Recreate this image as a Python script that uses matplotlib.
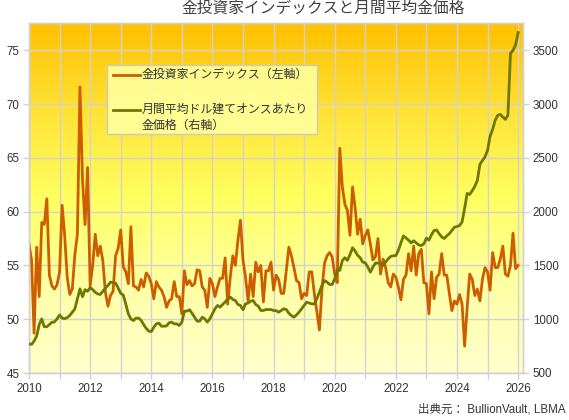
import numpy as np
import matplotlib
matplotlib.use("Agg")
import matplotlib.pyplot as plt
from matplotlib.colors import LinearSegmentedColormap
from matplotlib.lines import Line2D
from matplotlib.patches import Rectangle

plt.rcParams['font.family'] = ['Liberation Sans', 'Noto Sans CJK JP', 'DejaVu Sans']

# monthly values, Jan 2010 onwards
investor_index = [
    57.0, 55.5, 48.7, 56.7, 52.1, 59.0, 58.8, 61.2, 54.1, 53.1, 52.8, 53.2,
    54.4, 60.6, 57.8, 53.9, 52.3, 52.8, 56.0, 57.9, 71.6, 63.0, 58.8, 64.1,
    53.1, 55.0, 57.9, 55.9, 56.8, 55.4, 52.5, 51.2, 52.2, 52.6, 55.9, 56.6,
    58.3, 54.9, 54.4, 53.3, 58.6, 53.1, 53.0, 52.7, 53.7, 53.0, 54.3, 54.0,
    53.3, 51.9, 53.5, 53.0, 52.7, 52.1, 51.1, 51.7, 51.9, 53.5, 52.1, 52.1,
    50.5, 54.5, 53.2, 53.6, 53.1, 53.3, 54.6, 54.5, 53.0, 52.7, 51.1, 53.8,
    53.3, 52.1, 53.0, 53.8, 53.8, 55.7, 51.4, 53.9, 55.9, 55.0, 57.3, 59.2,
    55.5, 53.9, 51.7, 54.2, 52.1, 55.3, 54.4, 55.0, 51.6, 54.5, 54.5, 55.3,
    52.7, 54.1, 53.7, 52.4, 52.4, 54.5, 56.7, 55.9, 54.8, 53.6, 53.4, 51.9,
    52.4, 52.2, 54.4, 54.4, 52.4, 50.7, 49.0, 52.8, 55.2, 55.9, 56.2, 55.8,
    54.2, 53.4, 65.9, 62.3, 60.7, 60.1, 57.8, 62.3, 60.4, 57.9, 59.3, 57.0,
    57.8, 58.3, 57.0, 55.5, 55.8, 57.5, 54.2, 55.6, 54.8, 53.4, 53.0, 54.2,
    53.9, 53.0, 51.8, 53.7, 54.1, 56.1, 54.5, 56.8, 54.1, 56.1, 56.5, 53.4,
    53.3, 50.5, 54.4, 51.9, 53.9, 54.2, 56.1, 54.1, 54.1, 52.4, 50.8, 51.7,
    51.4, 52.3, 51.4, 47.5, 51.1, 54.2, 53.7, 52.2, 52.8, 51.7, 53.7, 54.8,
    54.4, 52.7, 56.2, 54.8, 54.8, 55.6, 56.8, 54.2, 54.0, 55.0, 58.0, 54.7,
    55.0,
]

gold_price = [
    770, 766, 797, 843, 950, 1003, 930, 930, 950, 972, 975, 1003,
    1040, 1010, 1005, 1015, 1035, 1065, 1096, 1190, 1283, 1210, 1275, 1260,
    1295, 1275, 1250, 1235, 1230, 1260, 1290, 1314, 1345, 1340, 1335, 1290,
    1240, 1225, 1140, 1050, 1003, 987, 1010, 1010, 990, 950, 915, 890,
    885, 926, 957, 963, 935, 935, 938, 967, 973, 957, 957, 942,
    973, 1075, 1075, 1088, 1056, 1019, 982, 982, 1019, 1004, 973, 1004,
    1050, 1097, 1128, 1112, 1137, 1159, 1190, 1206, 1184, 1174, 1137, 1128,
    1088, 1143, 1150, 1168, 1174, 1137, 1122, 1081, 1081, 1090, 1090, 1090,
    1081, 1080, 1065, 1081, 1097, 1090, 1056, 1034, 1019, 1040, 1065, 1097,
    1128, 1159, 1150, 1143, 1143, 1190, 1252, 1314, 1360, 1345, 1323, 1323,
    1376, 1454, 1454, 1545, 1572, 1547, 1600, 1665, 1634, 1594, 1572, 1531,
    1525, 1485, 1438, 1485, 1522, 1522, 1516, 1500, 1531, 1562, 1584, 1590,
    1592, 1640, 1710, 1775, 1755, 1735, 1710, 1730, 1710, 1690, 1685, 1700,
    1755, 1735, 1785, 1825, 1830, 1795, 1765, 1750, 1775, 1795, 1825, 1855,
    1862, 1870, 1905, 2030, 2170, 2160, 2195, 2235, 2290, 2440, 2475, 2510,
    2570, 2700, 2765, 2850, 2895, 2905, 2880, 2858, 2897, 3470, 3500, 3550,
    3665,
]

year_ticks = [2010, 2012, 2014, 2016, 2018, 2020, 2022, 2024, 2026]
left_ticks = [45, 50, 55, 60, 65, 70, 75]
right_ticks = [500, 1000, 1500, 2000, 2500, 3000, 3500]

title = "金投資家インデックスと月間平均金価格"
label_index = "金投資家インデックス（左軸）"
label_gold = ["月間平均ドル建てオンスあたり", "金価格（右軸）"]
source = "出典元： BullionVault, LBMA"

ORANGE = "#CC5E00"
OLIVE = "#6E7800"
GRID = "#D2D2D2"
TEXT = "#333333"

W, H = 569, 420
fig = plt.figure(figsize=(W / 100, H / 100), dpi=100)
ax = fig.add_axes([29 / W, 1 - 373 / H, (523 - 29) / W, (373 - 23) / H])
ax2 = ax.twinx()

# months as decimal years
t = 2010 + np.arange(len(investor_index)) / 12.0

# background gradient
cmap = LinearSegmentedColormap.from_list(
    "bg", [(0.0, "#FFFFCC"), (0.25, "#FFFFA6"), (0.5, "#FFFF60"),
           (0.75, "#FFE236"), (1.0, "#FFC000")])
grad = np.linspace(0, 1, 256).reshape(-1, 1)
ax.imshow(grad, cmap=cmap, origin="lower", aspect="auto",
          extent=[0, 1, 0, 1], transform=ax.transAxes, zorder=0)

ax.plot(t, investor_index, color=ORANGE, lw=2.0, zorder=3, solid_joinstyle="round")
ax2.plot(t, gold_price, color=OLIVE, lw=2.0, zorder=3, solid_joinstyle="round")

ax.set_xlim(2010, 2026.16)
ax.set_ylim(45, 77.54)
ax2.set_ylim(500, 3754)

ax.set_xticks(year_ticks)
ax.set_xticklabels([str(y) for y in year_ticks])
ax.set_xticks(range(2010, 2027), minor=True)
ax.set_yticks(left_ticks)
ax2.set_yticks(right_ticks)

ax.grid(True, which="both", axis="x", color=GRID, lw=1.0, zorder=1)
ax.grid(True, which="major", axis="y", color=GRID, lw=1.0, zorder=1)
ax.set_axisbelow(True)

for a in (ax, ax2):
    for s in a.spines.values():
        s.set_color(GRID)
        s.set_linewidth(1.0)
    a.tick_params(which="both", color=GRID, length=4, width=1,
                  labelsize=8.3, labelcolor=TEXT, pad=3)

# title and source
fig.text(323 / W, 1 - 8 / H, title, ha="center", va="center",
         fontsize=11.3, color="#404040")
fig.text(565 / W, 1 - 410 / H, source, ha="right", va="center",
         fontsize=8.3, color=TEXT)

# legend box
def fx(x):
    return x / W

def fy(y):
    return 1 - y / H

fig.patches.append(Rectangle((fx(107), fy(134)), fx(317) - fx(107), fy(65) - fy(134),
                             transform=fig.transFigure, facecolor="#FFFF99",
                             edgecolor="#C8C8C8", lw=1.0, alpha=0.92, zorder=5))
fig.lines.append(Line2D([fx(113), fx(140)], [fy(75), fy(75)], color=ORANGE, lw=2.0,
                        transform=fig.transFigure, zorder=6))
fig.lines.append(Line2D([fx(113), fx(140)], [fy(110), fy(110)], color=OLIVE, lw=2.0,
                        transform=fig.transFigure, zorder=6))
fig.text(fx(142), fy(75), label_index, ha="left", va="center", fontsize=8.6,
         color=TEXT, zorder=7)
fig.text(fx(142), fy(110), label_gold[0], ha="left", va="center", fontsize=8.6,
         color=TEXT, zorder=7)
fig.text(fx(142), fy(126), label_gold[1], ha="left", va="center", fontsize=8.6,
         color=TEXT, zorder=7)

fig.savefig("out.png", dpi=100, facecolor="white")
